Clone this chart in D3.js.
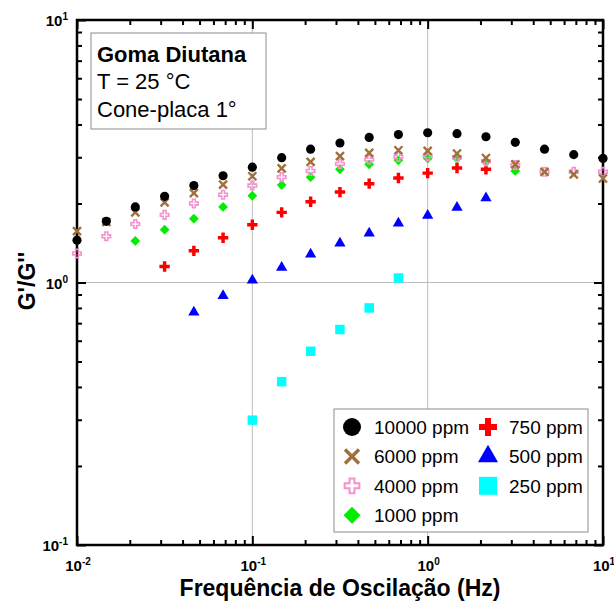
<!DOCTYPE html>
<html>
<head>
<meta charset="utf-8">
<script src="https://cdn.jsdelivr.net/npm/d3@7"></script>
<style>
  body { margin: 0; background: #fff; }
  svg { font-family: "Liberation Sans", Arial, sans-serif; }
</style>
</head>
<body>
<div id="chart"></div>
<script>
// frequencies (Hz)
const freq = [0.01, 0.0147, 0.0215, 0.0316, 0.0464, 0.0681, 0.1, 0.147, 0.215, 0.316,
              0.464, 0.681, 1, 1.47, 2.15, 3.16, 4.64, 6.81, 10];

// G'/G'' per concentration (null = no point)
const ppm10000 = [1.45, 1.71, 1.94, 2.13, 2.34, 2.55, 2.75, 2.99, 3.22, 3.40, 3.57, 3.66, 3.72, 3.69, 3.59, 3.42, 3.22, 3.07, 2.97];
const ppm6000  = [1.57, 1.70, 1.85, 2.02, 2.19, 2.36, 2.54, 2.72, 2.88, 3.03, 3.12, 3.19, 3.17, 3.10, 2.98, 2.82, 2.64, 2.58, 2.49];
const ppm4000  = [1.29, 1.50, 1.67, 1.81, 2.00, 2.16, 2.34, 2.52, 2.66, 2.83, 2.94, 3.01, 3.03, 3.00, 2.90, 2.80, 2.64, 2.64, 2.64];
const ppm1000  = [null, null, 1.44, 1.59, 1.75, 1.94, 2.14, 2.35, 2.52, 2.70, 2.82, 2.92, 2.97, 2.97, 2.88, 2.66, null, null, null];
const ppm750   = [null, null, null, 1.15, 1.32, 1.48, 1.66, 1.85, 2.03, 2.21, 2.38, 2.50, 2.61, 2.73, 2.70, null, null, null, null];
const ppm500   = [null, null, null, null, 0.77, 0.89, 1.02, 1.14, 1.28, 1.41, 1.54, 1.68, 1.80, 1.93, 2.10, null, null, null, null];
const ppm250   = [null, null, null, null, null, null, 0.299, 0.419, 0.547, 0.662, 0.80, 1.04, null, null, null, null, null, null, null];

const seriesNames = ["10000 ppm", "6000 ppm", "4000 ppm", "1000 ppm", "750 ppm", "500 ppm", "250 ppm"];
const xTickLabels = ["-2", "-1", "0", "1"];
const yTickLabels = ["-1", "0", "1"];
const noteLines = ["Goma Diutana", "T = 25 °C", "Cone-placa 1°"];

const width = 614, height = 601;
const margin = { left: 77, top: 20, right: 11, bottom: 56 };
const W = width - margin.left - margin.right;
const H = height - margin.top - margin.bottom;

const x = d3.scaleLog().domain([0.01, 10]).range([0, W]);
const y = d3.scaleLog().domain([0.1, 10]).range([H, 0]);

const svg = d3.select("#chart").append("svg")
    .attr("width", width)
    .attr("height", height);

const g = svg.append("g").attr("transform", `translate(${margin.left},${margin.top})`);

// grid lines at interior decades
g.selectAll(".vgrid").data([0.1, 1]).enter().append("line")
    .attr("x1", d => x(d)).attr("x2", d => x(d))
    .attr("y1", 0).attr("y2", H)
    .attr("stroke", "#bdbdbd").attr("stroke-width", 1);
g.selectAll(".hgrid").data([1]).enter().append("line")
    .attr("x1", 0).attr("x2", W)
    .attr("y1", d => y(d)).attr("y2", d => y(d))
    .attr("stroke", "#bdbdbd").attr("stroke-width", 1);

// ticks (inward on all four sides)
const xMajor = [0.01, 0.1, 1, 10];
const yMajor = [0.1, 1, 10];
const minorOf = decs => decs.slice(0, -1).flatMap(d => d3.range(2, 10).map(k => d * k));
const xMinor = minorOf(xMajor);
const yMinor = minorOf(yMajor);

function tickAxis(axisFn, scale, values, size, transform) {
  const a = g.append("g")
      .attr("transform", transform)
      .call(axisFn(scale).tickValues(values).tickSize(size).tickFormat(""));
  a.select(".domain").remove();
  a.selectAll(".tick line").attr("stroke", "#000").attr("stroke-width", 2);
}
tickAxis(d3.axisBottom, x, xMinor, -5, `translate(0,${H})`);
tickAxis(d3.axisBottom, x, xMajor, -9, `translate(0,${H})`);
tickAxis(d3.axisTop, x, xMinor, -5, `translate(0,0)`);
tickAxis(d3.axisTop, x, xMajor, -9, `translate(0,0)`);
tickAxis(d3.axisLeft, y, yMinor, -5, `translate(0,0)`);
tickAxis(d3.axisLeft, y, yMajor, -9, `translate(0,0)`);
tickAxis(d3.axisRight, y, yMinor, -5, `translate(${W},0)`);
tickAxis(d3.axisRight, y, yMajor, -9, `translate(${W},0)`);

// frame
g.append("rect")
    .attr("x", 0).attr("y", 0).attr("width", W).attr("height", H)
    .attr("fill", "none").attr("stroke", "#000").attr("stroke-width", 2.5);

// tick labels with superscripts
function powLabel(sel, exp) {
  sel.append("tspan").text("10");
  sel.append("tspan").attr("dy", -6).style("font-size", "10px").text(exp);
}
xMajor.forEach((d, i) => {
  const t = g.append("text")
      .attr("x", x(d) + 1).attr("y", H + 26)
      .attr("text-anchor", "middle")
      .style("font-size", "15px").style("font-weight", "bold");
  powLabel(t, xTickLabels[i]);
});
yMajor.forEach((d, i) => {
  const t = g.append("text")
      .attr("x", -9).attr("y", y(d) + 6)
      .attr("text-anchor", "end")
      .style("font-size", "15px").style("font-weight", "bold");
  powLabel(t, yTickLabels[i]);
});

// axis titles
svg.append("text")
    .attr("x", 340).attr("y", 596)
    .attr("text-anchor", "middle")
    .style("font-size", "23px").style("font-weight", "bold")
    .text("Frequência de Oscilação (Hz)");
svg.append("text")
    .attr("transform", "translate(35,281) rotate(-90)")
    .attr("text-anchor", "middle")
    .style("font-size", "23px").style("font-weight", "bold")
    .text("G'/G''");

// marker styles
const xPath = s => `M${-s},${-s}L${s},${s}M${-s},${s}L${s},${-s}`;
const styles = [
  { draw: (sel, big) => sel.append("path").attr("d", d3.symbol(d3.symbolCircle, big ? 254 : 66)()).attr("fill", "#000") },
  { draw: (sel, big) => sel.append("path").attr("d", xPath(big ? 7 : 4)).attr("fill", "none").attr("stroke", "#a0703c").attr("stroke-width", big ? 3.5 : 2.4) },
  { draw: (sel, big) => sel.append("path").attr("d", d3.symbol(d3.symbolCross, big ? 120 : 40)()).attr("fill", "none").attr("stroke", "#f78fd0").attr("stroke-width", big ? 2 : 1.6) },
  { draw: (sel, big) => sel.append("path").attr("d", d3.symbol(d3.symbolSquare, big ? 144 : 48)()).attr("transform", "rotate(45)").attr("fill", "#00ee00") },
  { draw: (sel, big) => sel.append("path").attr("d", d3.symbol(d3.symbolCross, big ? 180 : 60)()).attr("fill", "#ff0000") },
  { draw: (sel, big) => sel.append("path").attr("d", d3.symbol(d3.symbolTriangle, big ? 175 : 55)()).attr("fill", "#0000ff") },
  { draw: (sel, big) => sel.append("path").attr("d", d3.symbol(d3.symbolSquare, big ? 324 : 90)()).attr("fill", "#00ffff") }
];

const series = [ppm10000, ppm6000, ppm4000, ppm1000, ppm750, ppm500, ppm250];

// draw low concentrations first so the high ones sit on top
d3.range(series.length - 1, -1, -1).forEach(si => {
  const pts = freq.map((f, i) => ({ f, v: series[si][i] })).filter(p => p.v != null);
  g.append("g").selectAll("g")
      .data(pts)
      .enter().append("g")
      .attr("transform", p => `translate(${x(p.f)},${y(p.v)})`)
      .each(function() { styles[si].draw(d3.select(this), false); });
});

// annotation box
const note = svg.append("g");
note.append("rect")
    .attr("x", 91).attr("y", 33).attr("width", 175).attr("height", 96)
    .attr("fill", "#fff").attr("stroke", "#8c8c8c").attr("stroke-width", 1);
note.selectAll("text")
    .data(noteLines)
    .enter().append("text")
    .attr("x", 97)
    .attr("y", (d, i) => [62, 89, 117][i])
    .style("font-size", "22px")
    .style("font-weight", (d, i) => i === 0 ? "bold" : "normal")
    .text(d => d);

// legend
const legend = svg.append("g");
legend.append("rect")
    .attr("x", 334).attr("y", 409).attr("width", 254).attr("height", 123)
    .attr("fill", "#fff").attr("stroke", "#8c8c8c").attr("stroke-width", 1);

const legendPos = (i) => i < 4
    ? { sx: 352, tx: 374, cy: 427 + i * 29.4 }
    : { sx: 488, tx: 509, cy: 427 + (i - 4) * 29.4 };

seriesNames.forEach((name, i) => {
  const p = legendPos(i);
  const item = legend.append("g").attr("transform", `translate(${p.sx},${p.cy})`);
  styles[i].draw(item, true);
  legend.append("text")
      .attr("x", p.tx).attr("y", p.cy + 7)
      .style("font-size", "19px")
      .text(name);
});
</script>
</body>
</html>
